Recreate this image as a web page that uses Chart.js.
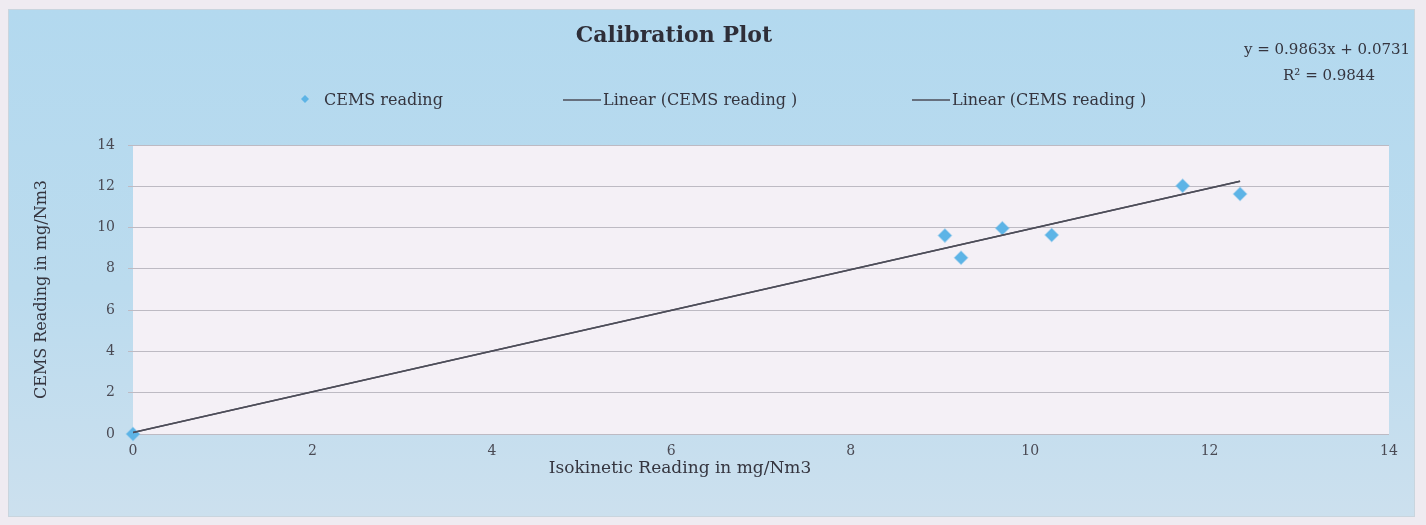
<!DOCTYPE html>
<html>
<head>
<meta charset="utf-8">
<title>Calibration Plot</title>
<script src="https://cdn.jsdelivr.net/npm/chart.js@4/dist/chart.umd.min.js"></script>
<style>
  html, body { margin: 0; padding: 0; background: #efebf1; }
  #wrap { width: 1426px; height: 525px; position: relative; }
  canvas { display: block; }
</style>
</head>
<body>
<div id="wrap"><canvas id="calib" width="1426" height="525"></canvas></div>
<script>
// Paired readings: isokinetic reference (x) vs CEMS analyser (y), mg/Nm3
const isokinetic = [0, 9.05, 9.23, 9.69, 10.24, 11.70, 12.34];
const cems = [0, 9.61, 8.54, 9.97, 9.64, 12.02, 11.63];

// Least-squares fit as reported on the chart
const trendSlope = 0.9863;
const trendIntercept = 0.0731;
const rSquared = 0.9844;

// Axis ticks (both axes share the same 0..14 range)
const axisTicks = [0, 2, 4, 6, 8, 10, 12, 14];

const chartTitle = 'Calibration Plot';
const seriesName = 'CEMS reading';
const trendName = 'Linear (CEMS reading )';
const xAxisTitle = 'Isokinetic Reading in mg/Nm3';
const yAxisTitle = 'CEMS Reading in mg/Nm3';

const FONT = "'DejaVu Serif', 'Liberation Serif', serif";
const TEXT = '#35353f';
const POINT_BLUE = '#5db4e6';
const TREND_GREY = '#4d4d59';

const scatterPoints = isokinetic.map((x, i) => ({ x, y: cems[i] }));
const xLo = Math.min(...isokinetic);
const xHi = Math.max(...isokinetic);
const trendPoints = [
  { x: xLo, y: trendSlope * xLo + trendIntercept },
  { x: xHi, y: trendSlope * xHi + trendIntercept }
];

// Panel backgrounds behind everything the chart draws
const panelBackground = {
  id: 'panelBackground',
  beforeDraw(chart) {
    const { ctx, width, height, chartArea } = chart;
    ctx.save();
    ctx.fillStyle = '#efebf1';
    ctx.fillRect(0, 0, width, height);
    const px = 8, py = 9, pw = 1407, ph = 508;
    const g = ctx.createLinearGradient(0, py, 0, py + ph);
    g.addColorStop(0, '#b3d9ef');
    g.addColorStop(0.55, '#bbdbee');
    g.addColorStop(1, '#cce0ee');
    ctx.fillStyle = g;
    ctx.fillRect(px, py, pw, ph);
    ctx.strokeStyle = '#c9d5de';
    ctx.lineWidth = 1;
    ctx.strokeRect(px + 0.5, py + 0.5, pw - 1, ph - 1);
    ctx.fillStyle = '#f4f0f6';
    ctx.fillRect(chartArea.left, chartArea.top, chartArea.right - chartArea.left, chartArea.bottom - chartArea.top);
    ctx.restore();
  }
};

// Title, legend, fit equation and horizontal axis title
const headerAndLabels = {
  id: 'headerAndLabels',
  afterDraw(chart) {
    const { ctx } = chart;
    ctx.save();
    ctx.fillStyle = '#2e2e38';
    ctx.textAlign = 'center';
    ctx.textBaseline = 'alphabetic';
    ctx.font = `bold 22px ${FONT}`;
    ctx.fillText(chartTitle, 674, 42);

    // legend row
    const ds = chart.data.datasets;
    const legendY = 100;
    const starts = [301, 563, 912];
    ctx.font = `16px ${FONT}`;
    ctx.textAlign = 'left';
    ctx.textBaseline = 'middle';
    ds.forEach((d, i) => {
      const x0 = starts[i];
      if (d.type === 'line') {
        ctx.strokeStyle = d.borderColor;
        ctx.lineWidth = 1.6;
        ctx.beginPath();
        ctx.moveTo(x0, legendY);
        ctx.lineTo(x0 + 38, legendY);
        ctx.stroke();
        ctx.fillStyle = TEXT;
        ctx.fillText(d.label, x0 + 40, legendY + 1);
      } else {
        ctx.fillStyle = d.backgroundColor;
        Chart.helpers.drawPoint(ctx, { pointStyle: 'rectRot', radius: 4, rotation: 0, borderWidth: 0 }, x0 + 4, legendY - 1);
        ctx.fillStyle = TEXT;
        ctx.fillText(d.label, x0 + 23, legendY + 1);
      }
    });

    // fit equation
    ctx.fillStyle = TEXT;
    ctx.textAlign = 'center';
    ctx.textBaseline = 'alphabetic';
    ctx.font = `15px ${FONT}`;
    ctx.fillText(`y = ${trendSlope}x + ${trendIntercept}`, 1327, 54);
    ctx.fillText(`R\u00B2 = ${rSquared}`, 1329, 80);

    // x axis title
    ctx.font = `17px ${FONT}`;
    ctx.fillText(xAxisTitle, 680, 473);
    ctx.restore();
  }
};

new Chart(document.getElementById('calib'), {
  type: 'scatter',
  data: {
    datasets: [
      {
        label: seriesName,
        data: scatterPoints,
        pointStyle: 'rectRot',
        pointRadius: 6.5,
        pointHoverRadius: 6.5,
        backgroundColor: POINT_BLUE,
        borderColor: 'rgba(93,180,230,0.45)',
        borderWidth: 1.5,
        clip: false,
        order: 3
      },
      {
        type: 'line',
        label: trendName,
        data: trendPoints,
        borderColor: TREND_GREY,
        borderWidth: 1.6,
        pointRadius: 0,
        fill: false,
        order: 2
      },
      {
        type: 'line',
        label: trendName,
        data: trendPoints,
        borderColor: TREND_GREY,
        borderWidth: 1.6,
        pointRadius: 0,
        fill: false,
        order: 1
      }
    ]
  },
  options: {
    responsive: false,
    animation: false,
    devicePixelRatio: 1,
    layout: { padding: { top: 145, right: 37, bottom: 0, left: 25 } },
    plugins: {
      legend: { display: false },
      title: { display: false },
      tooltip: { enabled: false }
    },
    scales: {
      x: {
        type: 'linear',
        min: axisTicks[0],
        max: axisTicks[axisTicks.length - 1],
        afterBuildTicks(scale) { scale.ticks = axisTicks.map(v => ({ value: v })); },
        grid: { display: false, drawTicks: false },
        border: { display: false },
        ticks: {
          padding: 9,
          color: '#4a4a54',
          font: { family: FONT, size: 14 },
          callback: v => String(v)
        },
        afterFit(scale) { scale.height = 91; }
      },
      y: {
        type: 'linear',
        min: axisTicks[0],
        max: axisTicks[axisTicks.length - 1],
        afterBuildTicks(scale) { scale.ticks = axisTicks.map(v => ({ value: v })); },
        grid: { color: '#bdbac3', lineWidth: 1, drawTicks: true, tickLength: 5, tickColor: '#bdbac3' },
        border: { display: false },
        ticks: {
          padding: 13,
          color: '#4a4a54',
          font: { family: FONT, size: 14 },
          callback: v => String(v)
        },
        title: {
          display: true,
          text: yAxisTitle,
          color: TEXT,
          font: { family: FONT, size: 16 },
          padding: { top: 7, bottom: 0 }
        },
        afterFit(scale) { scale.width = 108; }
      }
    }
  },
  plugins: [panelBackground, headerAndLabels]
});
</script>
</body>
</html>
